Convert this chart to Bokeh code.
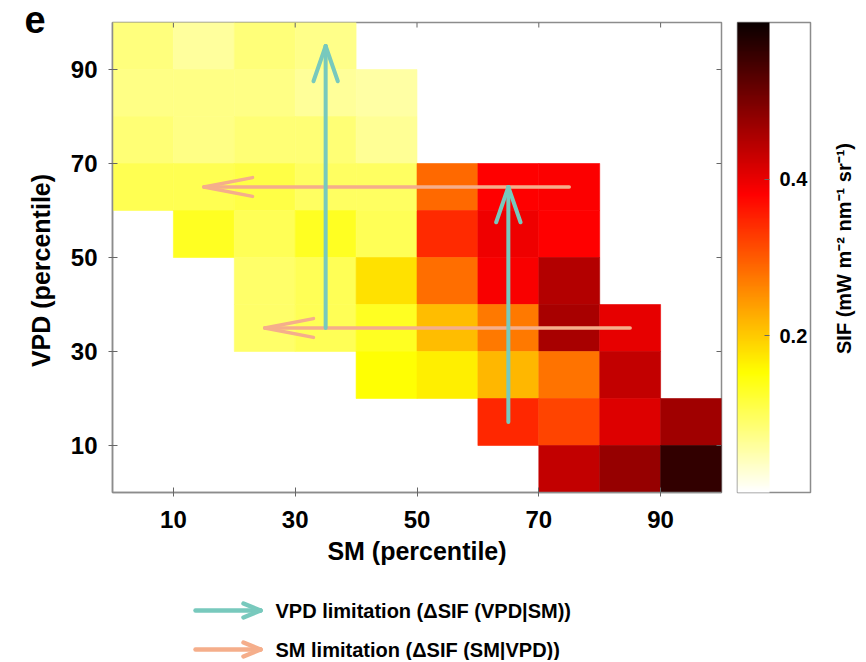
import numpy as np
from bokeh.plotting import figure
from bokeh.models import LinearColorMapper, ColorBar, FixedTicker, Range1d, ColumnDataSource
from bokeh.layouts import row, column
from bokeh.core.properties import value
from bokeh.embed import file_html
from bokeh.resources import INLINE

# ---------------- data ----------------
sm_bin = [5, 15, 25, 35,
          5, 15, 25, 35, 45,
          5, 15, 25, 35, 45,
          5, 15, 25, 35, 45, 55, 65, 75,
          15, 25, 35, 45, 55, 65, 75,
          25, 35, 45, 55, 65, 75,
          25, 35, 45, 55, 65, 75, 85,
          45, 55, 65, 75, 85,
          65, 75, 85, 95,
          75, 85, 95]
vpd_bin = [95, 95, 95, 95,
           85, 85, 85, 85, 85,
           75, 75, 75, 75, 75,
           65, 65, 65, 65, 65, 65, 65, 65,
           55, 55, 55, 55, 55, 55, 55,
           45, 45, 45, 45, 45, 45,
           35, 35, 35, 35, 35, 35, 35,
           25, 25, 25, 25, 25,
           15, 15, 15, 15,
           5, 5, 5]
sif = [0.078, 0.060, 0.080, 0.072,
       0.074, 0.074, 0.074, 0.062, 0.056,
       0.084, 0.074, 0.084, 0.084, 0.064,
       0.104, 0.104, 0.112, 0.094, 0.094, 0.286, 0.381, 0.383,
       0.132, 0.102, 0.132, 0.102, 0.343, 0.396, 0.381,
       0.091, 0.102, 0.180, 0.283, 0.386, 0.448,
       0.091, 0.102, 0.132, 0.211, 0.272, 0.459, 0.403,
       0.152, 0.168, 0.216, 0.277, 0.434,
       0.345, 0.320, 0.412, 0.466,
       0.434, 0.475, 0.563]
bin_width = 10

x_ticks = [10, 30, 50, 70, 90]
y_ticks = [10, 30, 50, 70, 90]
cbar_ticks = [0.2, 0.4]
sif_low, sif_high = 0.0, 0.6
x_min, x_max = 0, 100
y_min, y_max = 0, 100

# arrows (VPD limitation: vertical, SM limitation: horizontal)
vpd_x0 = [35, 65]
vpd_y0 = [35, 15]
vpd_x1 = [35, 65]
vpd_y1 = [95, 65]
sm_x0 = [75, 85]
sm_y0 = [65, 35]
sm_x1 = [15, 25]
sm_y1 = [65, 35]
legend_labels = ["VPD limitation (\u0394SIF (VPD|SM))", "SM limitation (\u0394SIF (SM|VPD))"]

panel_label = "e"
x_label = "SM (percentile)"
y_label = "VPD (percentile)"
cbar_label = "SIF (mW m\u207b\u00b2 nm\u207b\u00b9 sr\u207b\u00b9)"

TEAL = "#78c9bd"
SALMON = "#f5ae8b"
FONT = "Liberation Sans"

# layout sizes (pixels)
W_LEFT, W_MAIN, W_RIGHT = 56, 766, 44
H_TOP, H_LEG = 580, 80
FRAME_W, FRAME_H = 609, 470


# "hot" colormap, reversed (white -> yellow -> red -> black)
def hot_palette(n=256):
    t = np.linspace(0, 1, n)
    r = np.interp(t, [0, 0.365079, 1], [0.0416, 1, 1])
    g = np.interp(t, [0, 0.365079, 0.746032, 1], [0, 0, 1, 1])
    b = np.interp(t, [0, 0.746032, 1], [0, 0, 1])
    cols = ["#%02x%02x%02x" % (int(round(rr * 255)), int(round(gg * 255)), int(round(bb * 255)))
            for rr, gg, bb in zip(r, g, b)]
    return cols[::-1]


palette = hot_palette()
mapper = LinearColorMapper(palette=palette, low=sif_low, high=sif_high)


def blank_fig(w, h):
    f = figure(width=w, height=h, output_backend="svg", toolbar_location=None,
               x_range=Range1d(0, w), y_range=Range1d(0, h),
               x_axis_location=None, y_axis_location=None,
               min_border=0, outline_line_color=None, frame_align=False)
    f.grid.visible = False
    return f


# ---------------- main heatmap ----------------
p = figure(width=W_MAIN, height=H_TOP, output_backend="svg", toolbar_location=None,
           x_range=Range1d(x_min, x_max), y_range=Range1d(y_min, y_max), frame_align=False,
           min_border_left=56, min_border_right=101, min_border_top=22, min_border_bottom=88)
p.grid.visible = False
p.outline_line_color = "#8c8c8c"
p.outline_line_width = 1.5

src = ColumnDataSource(dict(x=sm_bin, y=vpd_bin, v=sif))
p.rect(x="x", y="y", width=bin_width, height=bin_width, source=src,
       fill_color={"field": "v", "transform": mapper},
       line_color={"field": "v", "transform": mapper}, line_width=0.6)

# inward tick marks on the top and right edges of the frame (5 px long)
tick_dx = 5 * (x_max - x_min) / FRAME_W
tick_dy = 5 * (y_max - y_min) / FRAME_H
p.segment(x0=x_ticks, y0=[y_max] * len(x_ticks), x1=x_ticks, y1=[y_max - tick_dy] * len(x_ticks),
          line_color="#666666", line_width=1)
p.segment(x0=[x_max] * len(y_ticks), y0=y_ticks, x1=[x_max - tick_dx] * len(y_ticks), y1=y_ticks,
          line_color="#666666", line_width=1)


def add_arrows(fig, x0, y0, x1, y1, color, lw, head_len, head_half):
    x0 = np.array(x0, float); y0 = np.array(y0, float)
    x1 = np.array(x1, float); y1 = np.array(y1, float)
    dx, dy = x1 - x0, y1 - y0
    ln = np.hypot(dx, dy)
    ux, uy = dx / ln, dy / ln
    px, py = -uy, ux
    fig.segment(x0=x0, y0=y0, x1=x1, y1=y1, line_color=color, line_width=lw, line_cap="round")
    for s in (1, -1):
        fig.segment(x0=x1, y0=y1,
                    x1=x1 - head_len * ux + s * head_half * px,
                    y1=y1 - head_len * uy + s * head_half * py,
                    line_color=color, line_width=lw, line_cap="round")


add_arrows(p, sm_x0, sm_y0, sm_x1, sm_y1, SALMON, 3.5, 8.0, 2.0)
add_arrows(p, vpd_x0, vpd_y0, vpd_x1, vpd_y1, TEAL, 4, 7.5, 2.0)

for ax in (p.xaxis[0], p.yaxis[0]):
    ax.minor_tick_line_color = None
    ax.major_tick_in = 5
    ax.major_tick_out = 4
    ax.major_tick_line_color = "#666666"
    ax.axis_line_color = "#8c8c8c"
    ax.axis_line_width = 1.5
    ax.major_label_text_font = FONT
    ax.major_label_text_font_style = "bold"
    ax.major_label_text_font_size = "24px"
    ax.major_label_text_color = "black"
    ax.axis_label_text_font = FONT
    ax.axis_label_text_font_style = "bold"
    ax.axis_label_text_font_size = "25px"
    ax.axis_label_text_color = "black"
p.xaxis[0].ticker = FixedTicker(ticks=x_ticks)
p.yaxis[0].ticker = FixedTicker(ticks=y_ticks)
p.xaxis.axis_label = x_label
p.xaxis.major_label_standoff = 14
p.yaxis.major_label_standoff = 11
p.xaxis.axis_label_standoff = 6

cbar = ColorBar(color_mapper=mapper, ticker=FixedTicker(ticks=cbar_ticks),
                width=32, height=470, location=(16, 0), padding=0, margin=0,
                border_line_color="#8c8c8c", border_line_width=1.5,
                major_tick_in=5, major_tick_out=0, major_tick_line_color="#666666",
                major_label_text_font=FONT, major_label_text_font_style="bold",
                major_label_text_font_size="20px", major_label_text_color="black",
                label_standoff=10, bar_line_color=None)
p.add_layout(cbar, "right")

# ---------------- left strip: panel letter + y-axis title ----------------
left = blank_fig(W_LEFT, H_TOP)
left.text(x=[24], y=[H_TOP - 19], text=[panel_label], text_font=value(FONT),
          text_font_style="bold", text_font_size="38px", text_baseline="alphabetic",
          text_align="left", text_color="black")
left.text(x=[40], y=[H_TOP - 270], text=[y_label], angle=np.pi / 2, text_font=value(FONT),
          text_font_style="bold", text_font_size="25px", text_baseline="middle",
          text_align="center", text_color="black")

# ---------------- right strip: colour-bar title ----------------
right = blank_fig(W_RIGHT, H_TOP)
right.text(x=[21], y=[H_TOP - 248], text=[cbar_label], angle=np.pi / 2, text_font=value(FONT),
           text_font_style="bold", text_font_size="20px", text_baseline="middle",
           text_align="center", text_color="black")

# ---------------- legend (below) ----------------
leg = blank_fig(W_LEFT + W_MAIN + W_RIGHT, H_LEG)
leg_colors = [TEAL, SALMON]
leg_y = [H_LEG - 30, H_LEG - 69]
for lbl, col, ly in zip(legend_labels, leg_colors, leg_y):
    add_arrows(leg, [195], [ly], [260], [ly], col, 4.5, 17, 7)
    leg.text(x=[275], y=[ly], text=[lbl], text_font=value(FONT), text_font_style="bold",
             text_font_size="20px", text_baseline="middle", text_align="left", text_color="black")

layout = column(row(left, p, right), leg)
open("out.html", "w").write(file_html(layout, INLINE))
